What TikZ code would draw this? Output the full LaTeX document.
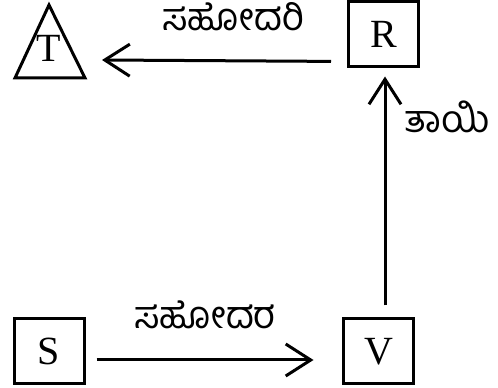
\documentclass[tikz,border=0pt]{standalone}
\usepackage{fontspec}
\setmainfont{Liberation Serif}
\newfontfamily\kannada[Script=Kannada]{Hind Mysuru}
\usetikzlibrary{arrows.meta}

\begin{document}
\begin{tikzpicture}[x=1pt,y=1pt,line width=3pt,
  letter/.style={font=\fontsize{40}{40}\selectfont},
  box/.style={draw,letter,minimum width=70pt,minimum height=65pt,inner sep=0pt},
  rel/.style={font=\kannada\fontsize{38}{38}\selectfont},
  arr/.style={-{Straight Barb[length=25pt,width=32pt,line width=3pt]}}]
\useasboundingbox (0,0) rectangle (498,388);
% triangle T
\draw (15,310) -- (49,383) -- (85,310) -- cycle;
\node[letter] (T) at (49,340) {T};
\coordinate (Tend) at (102,328);
% boxes
\node[box] (R) at (383.5,353.5) {R};
\node[box] (S) at (49,36.5) {S};
\node[box] (V) at (378.5,36.5) {V};
% relations
\draw[arr,shorten <=16pt] ([yshift=7pt]R.south west) -- (Tend);
\draw[arr,shorten <=12pt,shorten >=8pt] ([xshift=6.5pt]V.north) -- ([xshift=1.5pt]R.south);
\draw[arr,shorten <=11pt,shorten >=28.5pt] ([yshift=-8.5pt]S.east) -- ([yshift=-8.5pt]V.west);
\node[rel] (sis) at (233,371) {ಸಹೋದರಿ};
\node[rel] (mom) at (447,271) {ತಾಯಿ};
\node[rel] (bro) at (205,73) {ಸಹೋದರ};
\end{tikzpicture}
\end{document}
